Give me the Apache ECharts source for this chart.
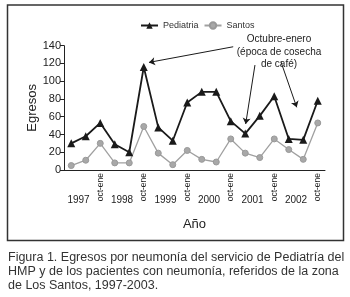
<!DOCTYPE html>
<html>
<head>
<meta charset="utf-8">
<script src="https://cdn.jsdelivr.net/npm/echarts@6/dist/echarts.min.js"></script>
<style>
  html, body { margin: 0; padding: 0; background: #fff; }
  #chart { width: 350px; height: 297px; }
</style>
</head>
<body>
<div id="chart"></div>
<script>
// periodos (3 por año); solo el de octubre-enero lleva rótulo
const periodos = ['', '', 'oct-ene', '', '', 'oct-ene', '', '', 'oct-ene',
                  '', '', 'oct-ene', '', '', 'oct-ene', '', '', 'oct-ene'];
const anios = ['1997', '1998', '1999', '2000', '2001', '2002'];
const aniosPos = [1.5, 4.5, 7.5, 10.5, 13.5, 16.5];
const pediatria = [30, 38, 53, 29, 20, 116, 48, 33, 76, 88, 88, 55, 41, 61, 83, 35, 34, 78];
const santos = [5, 11, 30, 8, 8, 49, 19, 6, 22, 12, 9, 35, 19, 14, 35, 23, 12, 53];
// flechas de la nota [x, y] en unidades del gráfico
const flechas = [
  [[12.17, 138.8], [6.36, 121.2]],
  [[13.67, 118.2], [13.03, 51.8]],
  [[15.46, 122], [16.55, 70.6]]
];
const nota = 'Octubre-enero\n(época de cosecha\nde café)';
const leyenda = 'Figura 1. Egresos por neumonía del servicio de Pediatría del\nHMP y de los pacientes con neumonía, referidos de la zona\nde Los Santos, 1997-2003.';

const font = '"Liberation Sans", Arial, sans-serif';
const chart = echarts.init(document.getElementById('chart'));

const option = {
  animation: false,
  textStyle: { fontFamily: font },
  legend: {
    left: 140,
    top: 21,
    padding: 0,
    itemWidth: 17,
    itemHeight: 8,
    itemGap: 5,
    textStyle: { fontSize: 9, color: '#333', fontFamily: font }
  },
  grid: { left: 64, right: 25, top: 45.7, bottom: 127 },
  xAxis: [
    {
      type: 'category',
      data: periodos,
      position: 'bottom',
      boundaryGap: true,
      name: 'Año',
      nameLocation: 'middle',
      nameGap: 48,
      nameMoveOverlap: false,
      nameTextStyle: { fontSize: 13, color: '#222', fontFamily: font },
      axisLine: { lineStyle: { color: '#222', width: 1 } },
      axisTick: { inside: true, length: 3, interval: 0, lineStyle: { color: '#222' } },
      axisLabel: { interval: 0, rotate: 90, margin: 3, fontSize: 8.5, color: '#222', fontFamily: font },
      splitLine: { show: false }
    },
    {
      type: 'value',
      position: 'bottom',
      min: 0.5,
      max: 18.5,
      axisLine: { show: false },
      axisTick: { show: false },
      splitLine: { show: false },
      axisLabel: {
        customValues: aniosPos,
        margin: 25,
        fontSize: 10,
        color: '#222',
        fontFamily: font,
        formatter: function (v) {
          const i = aniosPos.indexOf(v);
          return i >= 0 ? anios[i] : '';
        }
      }
    }
  ],
  yAxis: {
    type: 'value',
    min: 0,
    max: 140,
    interval: 20,
    name: 'Egresos',
    nameLocation: 'middle',
    nameGap: 25,
    nameMoveOverlap: false,
    nameTextStyle: { fontSize: 13, color: '#222', fontFamily: font },
    axisLine: { show: true, lineStyle: { color: '#222', width: 1 } },
    axisTick: { show: true, length: 4, lineStyle: { color: '#222' } },
    axisLabel: { fontSize: 11, color: '#222', margin: 3, fontFamily: font },
    splitLine: { show: false }
  },
  series: [
    {
      name: 'Pediatria',
      type: 'line',
      xAxisIndex: 1,
      data: pediatria.map((v, i) => [i + 1, v]),
      symbol: 'triangle',
      symbolSize: 8,
      itemStyle: { color: '#1a1a1a' },
      lineStyle: { color: '#1a1a1a', width: 1.8 },
      z: 3,
      markLine: {
        silent: true,
        symbol: ['none', 'arrow'],
        symbolSize: 6,
        label: { show: false },
        lineStyle: { color: '#1a1a1a', width: 1, type: 'solid' },
        data: flechas.map(f => [{ coord: f[0] }, { coord: f[1] }])
      }
    },
    {
      name: 'Santos',
      type: 'line',
      xAxisIndex: 1,
      data: santos.map((v, i) => [i + 1, v]),
      symbol: 'circle',
      symbolSize: 6,
      itemStyle: { color: '#a8a8a8', borderColor: '#999', borderWidth: 1 },
      lineStyle: { color: '#a0a0a0', width: 1.3 },
      z: 2
    }
  ],
  graphic: [
    {
      type: 'rect',
      shape: { x: 7.5, y: 5, width: 336, height: 235.5 },
      style: { fill: 'none', stroke: '#333', lineWidth: 1.5 },
      silent: true
    },
    {
      type: 'text',
      x: 279,
      y: 52,
      style: {
        text: nota,
        fontSize: 10,
        lineHeight: 12.5,
        fontFamily: font,
        fill: '#222',
        align: 'center',
        verticalAlign: 'middle'
      }
    },
    {
      type: 'text',
      x: 8,
      y: 250.5,
      style: {
        text: leyenda,
        fontSize: 12.5,
        lineHeight: 14.2,
        fontFamily: font,
        fill: '#333',
        align: 'left',
        verticalAlign: 'top'
      }
    }
  ]
};

chart.setOption(option);
</script>
</body>
</html>
